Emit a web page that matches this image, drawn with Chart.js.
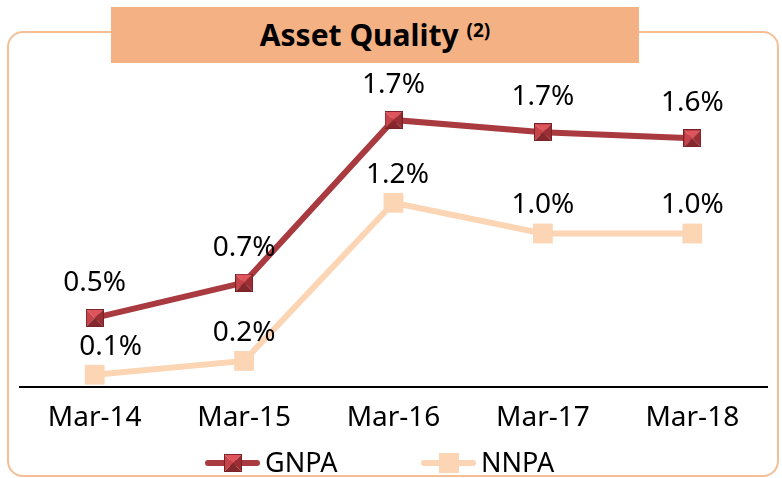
<!DOCTYPE html>
<html>
<head>
<meta charset="utf-8">
<script src="https://cdn.jsdelivr.net/npm/chart.js@4.4.0/dist/chart.umd.min.js"></script>
<style>
    html, body { margin: 0; padding: 0; background: #fff; }
    #wrap { position: relative; width: 782px; height: 478px; overflow: hidden; }
    #frame { position: absolute; left: 7px; top: 31px; width: 768px; height: 442px; border: 2px solid #F6BE94; border-radius: 16px; }
    #chart { position: absolute; left: 0; top: 0; }
    #title { position: absolute; left: 111px; top: 7px; width: 528px; height: 56px; background: #F4B183;
             font: bold 30px 'Noto Sans'; text-align: center; line-height: 56px; color: #000; }
    #title span { font-size: 19px; position: relative; top: -9px; }
</style>
</head>
<body>
<div id="wrap">
    <div id="frame"></div>
    <canvas id="chart" width="782" height="478"></canvas>
    <div id="title">Asset Quality <span>(2)</span></div>
</div>
<script>
const categories = ['Mar-14', 'Mar-15', 'Mar-16', 'Mar-17', 'Mar-18'];
const gnpa = [0.45, 0.68, 1.74, 1.66, 1.62];
const nnpa = [0.08, 0.17, 1.20, 1.00, 1.00];

// square marker with a pyramid bevel, like the office chart
function pyramidMarker(size) {
    const c = document.createElement('canvas');
    c.width = size;
    c.height = size;
    const g = c.getContext('2d');
    const m = size / 2;
    const faces = [
        [[0, 0], [size, 0], '#E0545C'],
        [[0, 0], [0, size], '#C6434A'],
        [[size, 0], [size, size], '#9A2E34'],
        [[0, size], [size, size], '#84282D']
    ];
    faces.forEach(([a, b, col]) => {
        g.beginPath();
        g.moveTo(a[0], a[1]);
        g.lineTo(b[0], b[1]);
        g.lineTo(m, m);
        g.closePath();
        g.fillStyle = col;
        g.fill();
    });
    g.strokeStyle = '#7A2226';
    g.lineWidth = 1;
    g.strokeRect(0.5, 0.5, size - 1, size - 1);
    return c;
}

const gnpaMarker = pyramidMarker(18);

const pointLabels = {
    id: 'pointLabels',
    afterDatasetsDraw(chart, args, opts) {
        const ctx = chart.ctx;
        ctx.save();
        ctx.font = "28px 'Noto Sans'";
        ctx.fillStyle = '#000';
        ctx.textAlign = 'center';
        ctx.textBaseline = 'middle';
        chart.data.datasets.forEach((ds, i) => {
            const meta = chart.getDatasetMeta(i);
            meta.data.forEach((pt, j) => {
                const v = Math.round(ds.data[j] * 10) / 10;
                const dx = opts.shifts[i + '-' + j] || 0;
                ctx.fillText(v.toFixed(1) + '%', pt.x + dx, pt.y - opts.offsets[i]);
            });
        });
        ctx.restore();
    }
};

const lineLegend = {
    id: 'lineLegend',
    afterDraw(chart, args, opts) {
        const ctx = chart.ctx;
        ctx.save();
        chart.data.datasets.forEach((ds, i) => {
            const cx = opts.centers[i];
            const y = opts.y;
            ctx.beginPath();
            ctx.moveTo(cx - 25, y);
            ctx.lineTo(cx + 24, y);
            ctx.strokeStyle = ds.borderColor;
            ctx.lineWidth = 6;
            ctx.lineCap = 'round';
            ctx.stroke();
            if (ds.pointStyle instanceof HTMLCanvasElement) {
                ctx.drawImage(ds.pointStyle, cx - ds.pointStyle.width / 2, y - ds.pointStyle.height / 2);
            } else {
                ctx.fillStyle = ds.pointBackgroundColor;
                ctx.fillRect(cx - 10, y - 10, 20, 20);
            }
            ctx.font = "27px 'Noto Sans'";
            ctx.fillStyle = '#000';
            ctx.textAlign = 'left';
            ctx.textBaseline = 'middle';
            ctx.fillText(ds.label, cx + 32, y + 1);
        });
        ctx.restore();
    }
};

new Chart(document.getElementById('chart'), {
    type: 'line',
    data: {
        labels: categories,
        datasets: [
            {
                label: 'GNPA',
                data: gnpa,
                borderColor: '#A93A40',
                borderWidth: 6,
                pointStyle: gnpaMarker,
                pointRadius: 9,
                clip: false
            },
            {
                label: 'NNPA',
                data: nnpa,
                borderColor: '#FCD5B5',
                borderWidth: 6,
                pointStyle: 'rect',
                pointRadius: 14,
                pointBorderWidth: 0,
                pointBackgroundColor: '#FCD5B5',
                clip: false
            }
        ]
    },
    options: {
        responsive: false,
        animation: false,
        layout: { padding: { top: 80, left: 20, right: 11, bottom: 31 } },
        plugins: {
            legend: { display: false },
            tooltip: { enabled: false },
            pointLabels: { offsets: [35, 28], shifts: { '1-0': 16, '1-2': 4 } },
            lineLegend: { centers: [233, 449], y: 463 }
        },
        scales: {
            x: {
                offset: true,
                grid: { display: false, drawTicks: false, offset: true },
                border: { display: true, color: '#000', width: 2 },
                ticks: { font: { family: 'Noto Sans', size: 28 }, color: '#000', padding: 14 },
                afterFit(scale) { scale.height = 60; }
            },
            y: { display: false, min: 0, max: 2 }
        }
    },
    plugins: [pointLabels, lineLegend]
});
</script>
</body>
</html>
